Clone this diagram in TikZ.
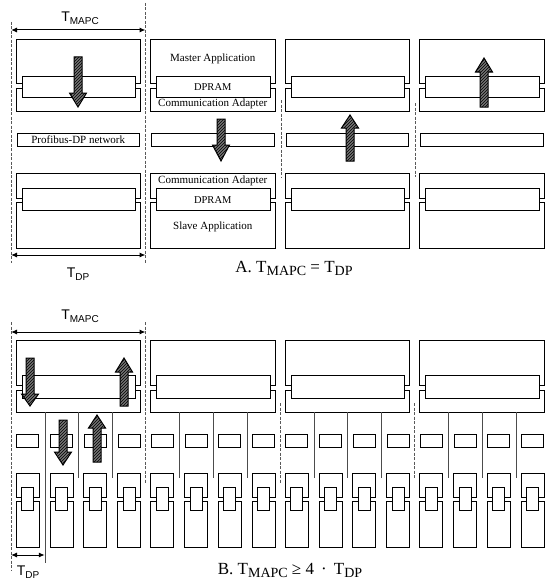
\documentclass[tikz,border=0pt]{standalone}
\usepackage{fontspec}
\setmainfont{Liberation Serif}
\newfontfamily\lsans{Liberation Sans}
\usetikzlibrary{patterns,arrows.meta}
\newcommand\dnarrow[4]{\draw[hatch] (#1-4,#2) -- (#1+4,#2) -- (#1+4,#3-#4) -- (#1+8.5,#3-#4) -- (#1,#3) -- (#1-8.5,#3-#4) -- (#1-4,#3-#4) -- cycle;}
\newcommand\uparrowh[4]{\draw[hatch] (#1-4,#2) -- (#1+4,#2) -- (#1+4,#3+#4) -- (#1+8.5,#3+#4) -- (#1,#3) -- (#1-8.5,#3+#4) -- (#1-4,#3+#4) -- cycle;}
\newcommand\tlabel[2]{{\lsans\fontsize{14}{14}\selectfont T\raisebox{-3.5pt}{\fontsize{10}{10}\selectfont #1}}}
\newcommand\tcap[1]{T\raisebox{-3pt}{\fontsize{14}{14}\selectfont #1}}
\begin{document}
\begin{tikzpicture}[x=1pt,y=-1pt,
  box/.style={draw=black,line width=0.8pt},
  wbox/.style={draw=black,line width=0.8pt,fill=white},
  bnd/.style={draw=black!65,line width=0.5pt,dash pattern=on 3pt off 1.5pt},
  subln/.style={draw=black!70,line width=0.5pt},
  hatch/.style={draw=black,line width=1pt,preaction={fill=black!55},pattern=north east lines,pattern color=black},
  dim/.style={line width=1pt,{Latex[length=6pt,width=5pt]}-{Latex[length=6pt,width=5pt]}},
  lbl/.style={inner sep=0pt,font=\fontsize{11}{11}\selectfont},
  dlbl/.style={inner sep=0pt,font=\fontsize{10.5}{10.5}\selectfont},
]
\useasboundingbox (0,0) rectangle (545,586);

% ---------------- Part A ----------------
\draw[bnd] (11,22) -- (11,263);
\draw[bnd] (145.5,3) -- (145.5,263);
\draw[bnd] (281,100) -- (281,178);
\draw[bnd] (415.5,103) -- (415.5,177);

\foreach \b in {11,145.5,280,414.5} {
  \pgfmathsetmacro\L{\b+5}
  \pgfmathsetmacro\R{\b+129.5}
  \draw[box] (\L,39) rectangle (\R,83);
  \draw[box] (\L,88) rectangle (\R,111);
  \draw[wbox] (\L+6,76) rectangle (\R-5,97);
  \draw[box] (\L+1,133) rectangle (\R-1,146);
  \draw[box] (\L,173) rectangle (\R,198);
  \draw[box] (\L,202) rectangle (\R,248);
  \draw[wbox] (\L+6,188) rectangle (\R-5,210);
}

\node[lbl] (ma) at (212.75,59) {Master Application};
\node[dlbl] (md) at (212.75,87) {DPRAM};
\node[lbl] (mc) at (212.75,104) {Communication Adapter};
\node[lbl] (sc) at (212.75,181) {Communication Adapter};
\node[dlbl] (sd) at (212.75,200) {DPRAM};
\node[lbl] (sa) at (212.75,227) {Slave Application};
\node[lbl] (net) at (78.25,140) {Profibus-DP network};

\dnarrow{78}{57}{107}{14}
\dnarrow{221}{119}{161}{16}
\uparrowh{350}{161}{115}{13}
\uparrowh{484}{107}{58}{14}

\coordinate (a1) at (11,30);
\coordinate (a2) at (145.5,30);
\draw[dim] (a1) -- (a2);
\coordinate (a3) at (11,255);
\coordinate (a4) at (145.5,255);
\draw[dim] (a3) -- (a4);
\node[inner sep=0pt] (tma) at (80,18) {\tlabel{MAPC}{}};
\node[inner sep=0pt] (tda) at (78,274) {\tlabel{DP}{}};
\node[inner sep=0pt,font=\fontsize{17}{17}\selectfont] (capa) at (294,268) {A. \tcap{MAPC} = \tcap{DP}};

% ---------------- Part B ----------------
\draw[bnd] (11,322) -- (11,570);
\draw[bnd] (145.5,322) -- (145.5,483);
\draw[bnd] (280,403) -- (280,483);
\draw[bnd] (414.5,403) -- (414.5,478);

\foreach \b in {11,145.5,280,414.5} {
  \pgfmathsetmacro\L{\b+5}
  \pgfmathsetmacro\R{\b+129.5}
  \draw[box] (\L,340) rectangle (\R,385);
  \draw[box] (\L,390) rectangle (\R,412);
  \draw[wbox] (\L+6,375) rectangle (\R-5,398);
  \foreach \k in {0,1,2,3} {
    \pgfmathsetmacro\c{\b+33.75*\k+16.875}
    \draw[box] (\c-11,434) rectangle (\c+11,447);
    \draw[box] (\c-11.5,473) rectangle (\c+11.5,497);
    \draw[box] (\c-11.5,501) rectangle (\c+11.5,547);
    \draw[wbox] (\c-6,487) rectangle (\c+6,510);
  }
}
\foreach \x in {78.5,112.25,179.25,213,246.75,313.75,347.5,381.25,448.25,482,515.75} {
  \draw[subln] (\x,412) -- (\x,478);
}
\draw[subln] (44.75,412) -- (44.75,563);

\dnarrow{30}{358}{406}{12}
\uparrowh{124}{406}{358}{14}
\dnarrow{63}{420}{465}{13}
\uparrowh{97}{462}{415}{13}

\coordinate (b1) at (11,332);
\coordinate (b2) at (145.5,332);
\draw[dim] (b1) -- (b2);
\coordinate (b3) at (11,555);
\coordinate (b4) at (44.75,555);
\draw[dim] (b3) -- (b4);
\node[inner sep=0pt] (tmb) at (80,316) {\tlabel{MAPC}{}};
\node[inner sep=0pt] (tdb) at (28,572) {\tlabel{DP}{}};
\node[inner sep=0pt,font=\fontsize{17}{17}\selectfont] (capb) at (290,570) {B. \tcap{MAPC} ≥ 4 \,·\, \tcap{DP}};
\end{tikzpicture}
\end{document}
